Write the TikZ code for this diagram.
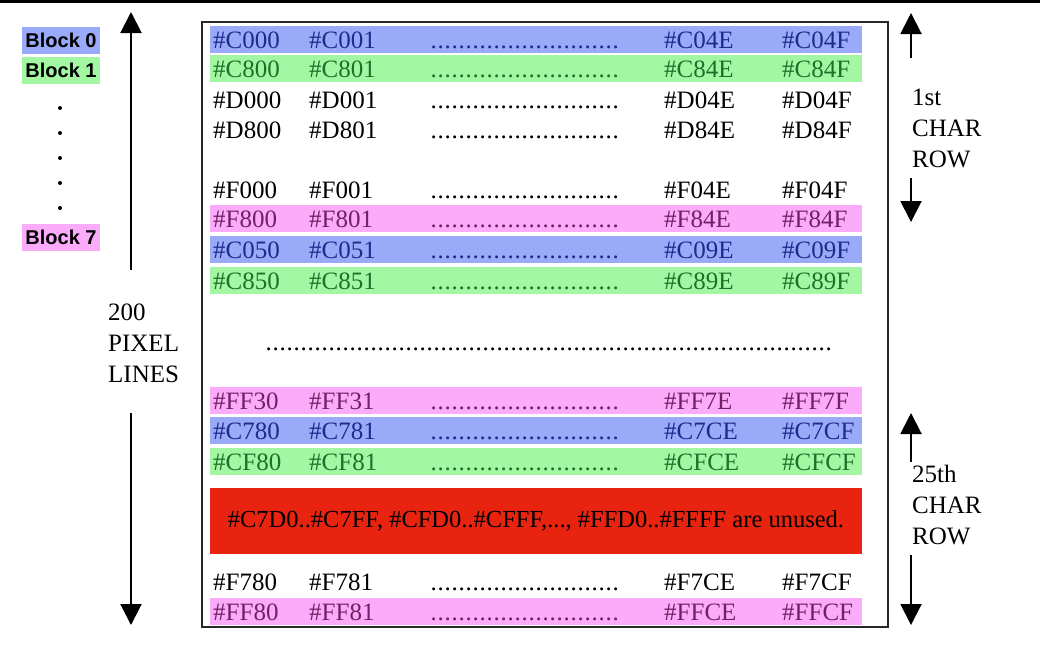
\documentclass[tikz,border=0pt]{standalone}
\usepackage{fontspec}
\setmainfont{Liberation Serif}
\newfontfamily\blockfont{Liberation Sans}
\usetikzlibrary{arrows.meta}

\definecolor{bandblue}{RGB}{152,170,248}
\definecolor{bandgreen}{RGB}{163,247,163}
\definecolor{bandpink}{RGB}{250,172,250}
\definecolor{bandred}{RGB}{232,36,16}
\definecolor{txtblue}{RGB}{32,42,140}
\definecolor{txtgreen}{RGB}{28,112,40}
\definecolor{txtpink}{RGB}{112,32,100}
\definecolor{frame}{RGB}{40,40,40}

% a run of evenly spaced dots of the given width
\newcommand{\dotrun}[1]{\hbox to #1{\leaders\hbox to 7pt{\hss.\hss}\hfill}}

% one line of the screen memory map:
% #1 name, #2 row centre, #3 band fill, #4 text colour, #5..#8 addresses
\newcommand{\memrow}[8]{%
  \node[band, fill=#3] (#1) at (536,#2-1) {};
  \node[addr, text=#4] (#1-a) at (213,#2+8) {#5};
  \node[addr, text=#4] (#1-b) at (309,#2+8) {#6};
  \node[addr, text=#4] (#1-d) at (430,#2+8) {\dotrun{189pt}};
  \node[addr, text=#4] (#1-c) at (664,#2+8) {#7};
  \node[addr, text=#4] (#1-e) at (782,#2+8) {#8};
}

\begin{document}
\begin{tikzpicture}[x=1pt, y=-1pt,
  band/.style={rectangle, inner sep=0, minimum width=652pt, minimum height=27pt},
  addr/.style={anchor=base west, inner sep=0, font=\fontsize{25}{30}\selectfont},
  blocktag/.style={rectangle, inner sep=0, minimum width=78pt, minimum height=27pt,
    font=\blockfont\bfseries\fontsize{20}{23}\selectfont},
  sidetext/.style={anchor=west, inner sep=0, align=left, font=\fontsize{25}{31}\selectfont},
  span/.style={line width=2pt, -{Triangle[width=21pt, length=21pt]}},
  blockdot/.style={circle, fill=black, inner sep=0, minimum size=4pt}]

\useasboundingbox (0,0) rectangle (1040,654);
\fill[black] (0,0) rectangle (1040,3);

% block legend
\node[blocktag, fill=bandblue]  (blk0) at (61,40.5) {Block 0};
\node[blocktag, fill=bandgreen] (blk1) at (61,70)   {Block 1};
\node[blocktag, fill=bandpink]  (blk7) at (61,237)  {Block 7};
\foreach \i/\yy in {1/108, 2/133, 3/158, 4/183, 5/208}
  \node[blockdot] (bd\i) at (60,\yy) {};

% frame around the map
\draw[frame, line width=2pt] (202,22) rectangle (888,627);

% first character row
\memrow{r1}{40}{bandblue}{txtblue}{\#C000}{\#C001}{\#C04E}{\#C04F}
\memrow{r2}{69}{bandgreen}{txtgreen}{\#C800}{\#C801}{\#C84E}{\#C84F}
\memrow{r3}{100}{none}{black}{\#D000}{\#D001}{\#D04E}{\#D04F}
\memrow{r4}{130}{none}{black}{\#D800}{\#D801}{\#D84E}{\#D84F}
\memrow{r5}{190}{none}{black}{\#F000}{\#F001}{\#F04E}{\#F04F}
\memrow{r6}{219}{bandpink}{txtpink}{\#F800}{\#F801}{\#F84E}{\#F84F}
% second character row
\memrow{r7}{250}{bandblue}{txtblue}{\#C050}{\#C051}{\#C09E}{\#C09F}
\memrow{r8}{281}{bandgreen}{txtgreen}{\#C850}{\#C851}{\#C89E}{\#C89F}

\node[addr] (gap) at (265,350) {\dotrun{568pt}};

% last character row
\memrow{r9}{401}{bandpink}{txtpink}{\#FF30}{\#FF31}{\#FF7E}{\#FF7F}
\memrow{r10}{431}{bandblue}{txtblue}{\#C780}{\#C781}{\#C7CE}{\#C7CF}
\memrow{r11}{462}{bandgreen}{txtgreen}{\#CF80}{\#CF81}{\#CFCE}{\#CFCF}

\node[rectangle, fill=bandred, inner sep=0, minimum width=652pt, minimum height=66pt,
  font=\fontsize{24.5}{30}\selectfont] (unused) at (536,521)
  {\#C7D0..\#C7FF, \#CFD0..\#CFFF,..., \#FFD0..\#FFFF are unused.};

\memrow{r12}{582}{none}{black}{\#F780}{\#F781}{\#F7CE}{\#F7CF}
\memrow{r13}{612}{bandpink}{txtpink}{\#FF80}{\#FF81}{\#FFCE}{\#FFCF}

% height of the screen in pixel lines
\node[sidetext] (pix) at (108,343.5) {200\\PIXEL\\LINES};
\coordinate (pixtop) at (131,12);
\coordinate (pixbot) at (131,625);
\draw[span] (131,270) coordinate (pixa) -- (pixtop);
\draw[span] (131,413) coordinate (pixb) -- (pixbot);

% first character row span
\node[sidetext] (row1) at (912,128) {1st\\CHAR\\ROW};
\coordinate (row1top) at (911,13);
\coordinate (row1bot) at (911,222);
\draw[span] (911,58) coordinate (row1a) -- (row1top);
\draw[span] (911,178) coordinate (row1b) -- (row1bot);

% 25th character row span
\node[sidetext] (row25) at (912,505.5) {25th\\CHAR\\ROW};
\coordinate (row25top) at (911,413);
\coordinate (row25bot) at (911,625);
\draw[span] (911,462) coordinate (row25a) -- (row25top);
\draw[span] (911,555) coordinate (row25b) -- (row25bot);

\end{tikzpicture}
\end{document}
